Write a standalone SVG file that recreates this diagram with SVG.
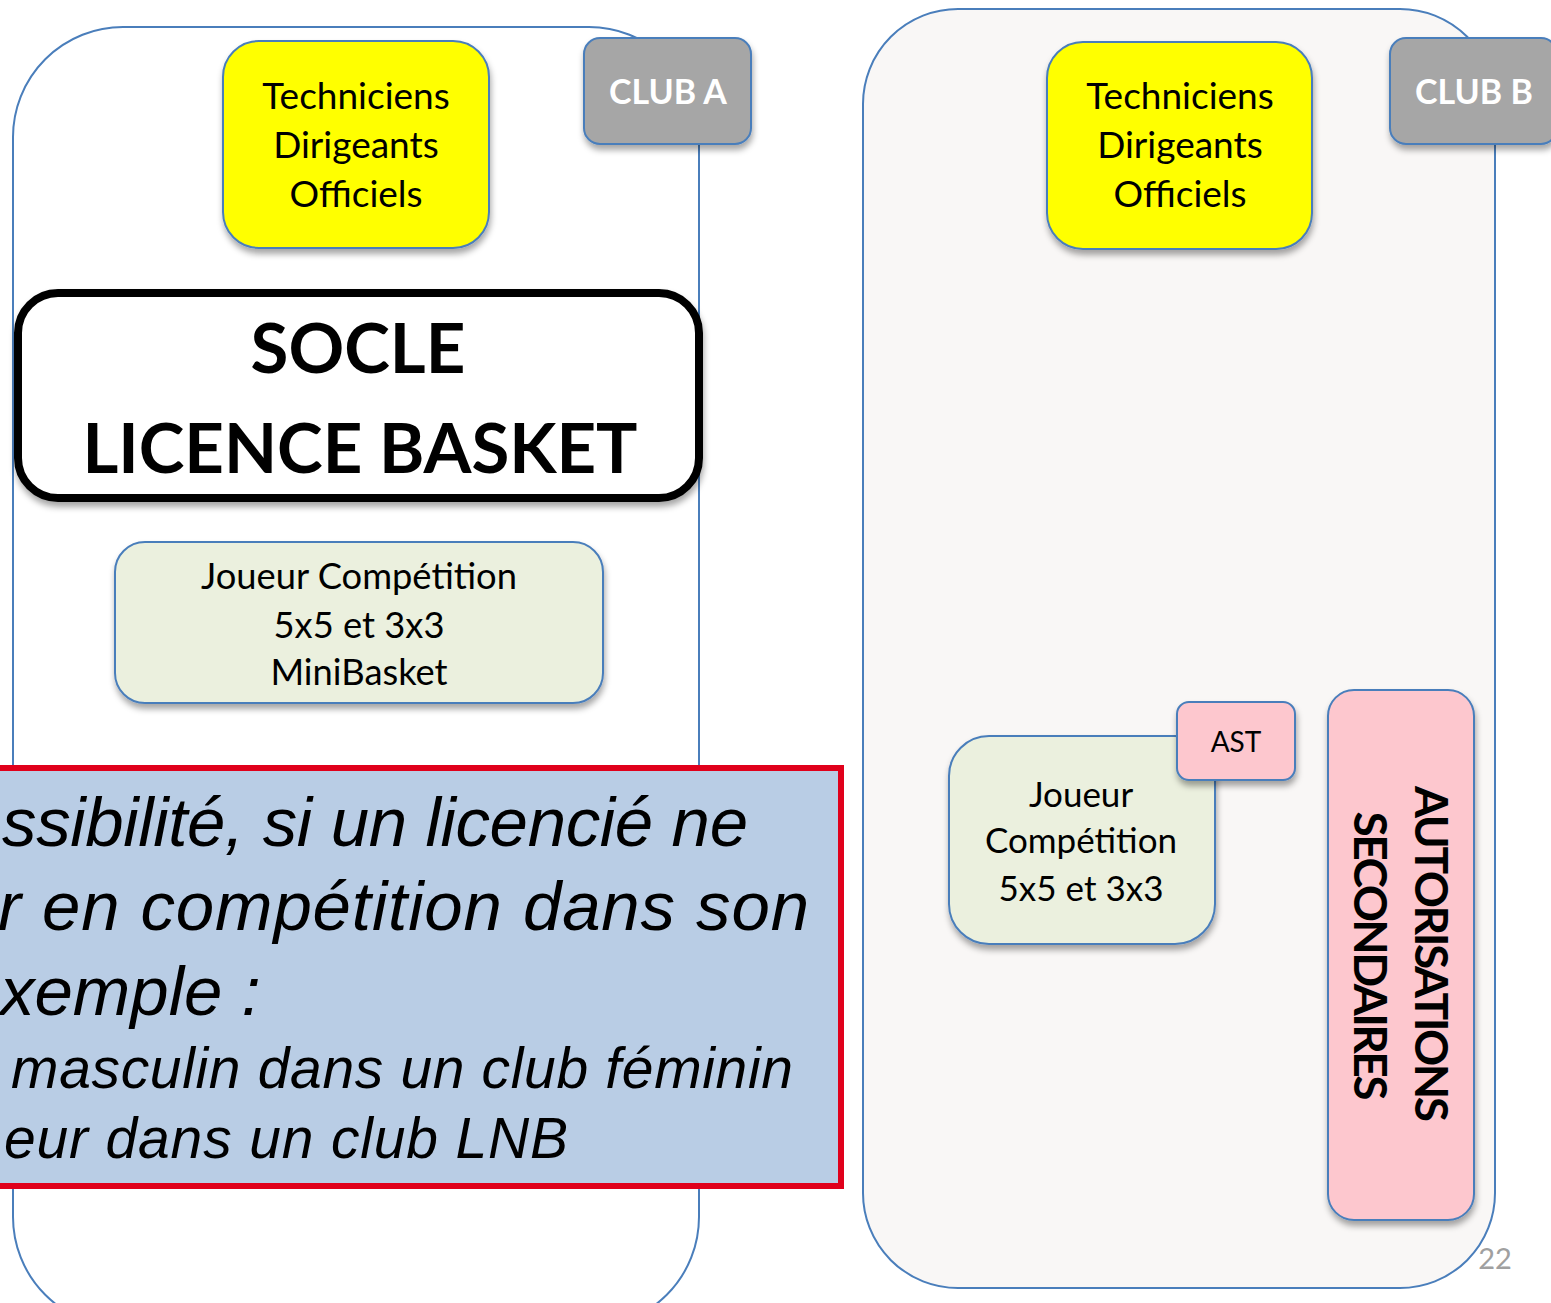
<svg xmlns="http://www.w3.org/2000/svg" width="1551" height="1303" viewBox="0 0 1551 1303">
<defs>
<filter id="sh" x="-10%" y="-10%" width="130%" height="140%">
<feDropShadow dx="1" dy="5" stdDeviation="3" flood-color="#000" flood-opacity="0.35"/>
</filter>
</defs>
<style>
.cont{stroke:#4a7ebb;stroke-width:2}
.box{stroke:#4a7ebb;stroke-width:2;filter:url(#sh)}
.cal{font-family:Lato,"Open Sans","Liberation Sans",sans-serif;text-anchor:middle;fill:#000}
.b{font-weight:bold}
.club{font-family:Lato,"Open Sans","Liberation Sans",sans-serif;font-weight:bold;font-size:34px;fill:#fff;text-anchor:middle}
.it{font-family:"Liberation Sans",Arial,sans-serif;font-style:italic;fill:#000}
</style>
<rect width="1551" height="1303" fill="#fff"/>
<g id="clubA-container">
<rect class="cont" x="13" y="27" width="686" height="1300" rx="110" fill="#fff"/>
</g>
<g id="clubB-container">
<rect class="cont" x="863" y="9" width="632" height="1279" rx="95" fill="#f9f7f6"/>
</g>
<g id="clubA-label">
<rect class="box" x="584" y="38" width="167" height="106" rx="16" fill="#a6a6a6"/>
<text class="club" x="668" y="104">CLUB A</text>
</g>
<g id="clubB-label">
<rect class="box" x="1390" y="38" width="167" height="106" rx="16" fill="#a6a6a6"/>
<text class="club" x="1474" y="104">CLUB B</text>
</g>
<g id="tdo-A">
<rect class="box" x="223" y="41" width="266" height="207" rx="36" fill="#ffff00"/>
<text class="cal" font-size="37"><tspan x="356" y="109">Techniciens</tspan><tspan x="356" y="158">Dirigeants</tspan><tspan x="356" y="207">Officiels</tspan></text>
</g>
<g id="tdo-B">
<rect class="box" x="1047" y="42" width="265" height="207" rx="36" fill="#ffff00"/>
<text class="cal" font-size="37"><tspan x="1180" y="109">Techniciens</tspan><tspan x="1180" y="158">Dirigeants</tspan><tspan x="1180" y="207">Officiels</tspan></text>
</g>
<g id="socle">
<rect x="18" y="293" width="681" height="205" rx="40" fill="#fff" stroke="#000" stroke-width="8" filter="url(#sh)"/>
<text class="cal b" font-size="69"><tspan x="358" y="373">SOCLE</tspan><tspan x="360" y="473" textLength="555">LICENCE BASKET</tspan></text>
</g>
<g id="joueur-A">
<rect class="box" x="115" y="542" width="488" height="161" rx="30" fill="#ebf0de"/>
<text class="cal" font-size="36.3"><tspan x="359" y="589">Joueur Compétition</tspan><tspan x="359" y="638">5x5 et 3x3</tspan><tspan x="359" y="685">MiniBasket</tspan></text>
</g>
<g id="note">
<rect x="-20" y="768" width="861" height="418" fill="#b9cde5" stroke="#e0001b" stroke-width="6"/>
<text class="it" font-size="69"><tspan x="2" y="846" textLength="746">ssibilité, si un licencié ne</tspan><tspan x="-2" y="930" textLength="811">r en compétition dans son</tspan><tspan x="0" y="1015">xemple :</tspan></text>
<text class="it" font-size="57"><tspan x="11" y="1088" textLength="782">masculin dans un club féminin</tspan><tspan x="4" y="1158" textLength="564">eur dans un club LNB</tspan></text>
</g>
<g id="joueur-B">
<rect class="box" x="949" y="736" width="266" height="208" rx="40" fill="#ebf0de"/>
<text class="cal" font-size="35"><tspan x="1081" y="807">Joueur</tspan><tspan x="1081" y="853">Compétition</tspan><tspan x="1081" y="901">5x5 et 3x3</tspan></text>
</g>
<g id="ast">
<rect class="box" x="1177" y="702" width="118" height="78" rx="12" fill="#fdc7ce"/>
<text class="cal" font-size="28" x="1236" y="752">AST</text>
</g>
<g id="autorisations">
<rect class="box" x="1328" y="690" width="146" height="530" rx="26" fill="#fdc7ce"/>
<text class="cal b" font-size="46" transform="translate(1415,954) rotate(90)" textLength="336">AUTORISATIONS</text>
<text class="cal b" font-size="46" transform="translate(1354,956) rotate(90)" textLength="289">SECONDAIRES</text>
</g>
<g id="connectors"/>
<text x="1495" y="1269" font-family="Lato,'Open Sans',sans-serif" font-size="29" fill="#a0a0a0" text-anchor="middle">22</text>
</svg>
